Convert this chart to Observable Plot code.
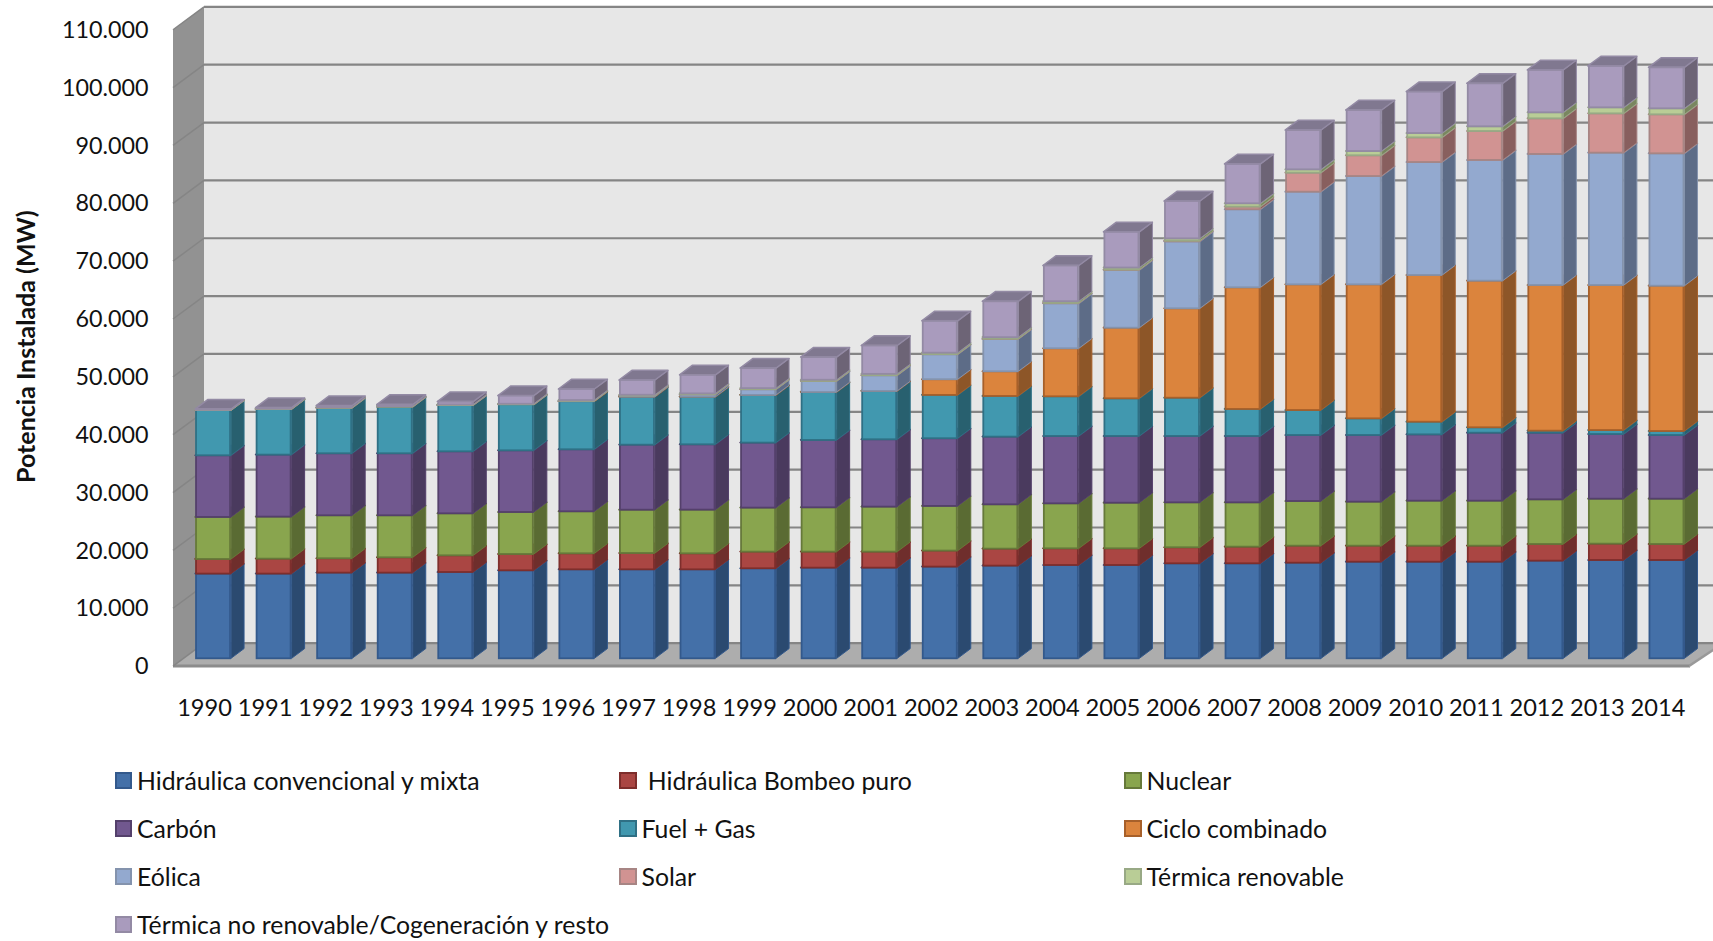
<!DOCTYPE html>
<html lang="es">
<head>
<meta charset="utf-8">
<title>Potencia Instalada</title>
<script src="https://cdn.jsdelivr.net/npm/d3@7"></script>
<script src="https://cdn.jsdelivr.net/npm/@observablehq/plot@0.6"></script>
<style>
html,body{margin:0;padding:0;background:#fff;overflow:hidden}
#legend{display:grid;grid-template-columns:504.5px 505px auto;grid-auto-rows:48px;padding:6.5px 0 0 114.5px;
 font-family:Lato,sans-serif;font-size:24.8px;color:#111;height:183px;box-sizing:content-box}
.item{display:flex;align-items:center;white-space:pre}
.sw{width:17.5px;height:17px;box-sizing:border-box;border:2.5px solid;margin-right:5px;flex:none}
</style>
</head>
<body>
<div id="chart"></div>
<div id="legend"></div>
<script>
const years = [1990,1991,1992,1993,1994,1995,1996,1997,1998,1999,2000,2001,2002,2003,2004,2005,2006,2007,2008,2009,2010,2011,2012,2013,2014];
const yTicks = [0,10000,20000,30000,40000,50000,60000,70000,80000,90000,100000,110000];
const seriesNames = ["Hidráulica convencional y mixta"," Hidráulica Bombeo puro","Nuclear","Carbón","Fuel + Gas","Ciclo combinado","Eólica","Solar","Térmica renovable","Térmica no renovable/Cogeneración y resto"];

const hidraulica = [14640,14640,14810,14810,14920,15210,15380,15380,15380,15560,15670,15670,15850,16020,16130,16130,16420,16420,16530,16700,16700,16700,16880,16990,16990];
const bombeo = [2530,2590,2480,2650,2880,2820,2770,2820,2770,2880,2770,2770,2770,2940,2880,2880,2770,2880,2940,2770,2770,2770,2880,2830,2770];
const nuclear = [7260,7260,7430,7260,7260,7260,7260,7490,7550,7610,7660,7780,7720,7660,7780,7890,7770,7660,7720,7610,7780,7780,7720,7770,7830];
const carbon = [10660,10720,10720,10720,10720,10660,10720,11240,11290,11240,11640,11640,11700,11700,11640,11530,11470,11470,11410,11520,11460,11750,11520,11180,11010];
const fuelGas = [7840,7890,7890,8070,8010,7950,8300,8300,8240,8240,8300,8360,7490,7030,6860,6510,6620,4670,4320,2880,2190,930,350,690,690];
const ciclo = [0,0,0,0,0,0,0,0,0,0,0,0,2710,4260,8300,12210,15450,21030,21720,23160,25360,25350,25180,25070,25120];
const eolica = [0,0,0,0,0,0,100,200,400,980,1900,2710,4320,5590,7780,9990,11570,13490,16020,18730,19530,20860,22650,22880,22880];
const solar = [0,0,0,0,0,0,0,0,10,10,10,10,20,40,60,60,120,460,3290,3580,4260,5010,6160,6790,6740];
const termicaRen = [30,60,80,80,90,100,120,130,150,180,200,230,250,270,300,350,400,570,570,740,750,810,1040,1040,1040];
const termicaNoRen = [120,170,260,270,490,1400,1900,2550,3200,3460,3920,4900,5500,6200,6170,6160,6460,6800,6800,7090,7150,7430,7320,7150,7080];
const seriesValues = [hidraulica,bombeo,nuclear,carbon,fuelGas,ciclo,eolica,solar,termicaRen,termicaNoRen];

// palette
const frontColors = ["#4470a8","#aa4643","#89a54e","#71588f","#4198af","#db843d","#93a9cf","#d19392","#b9cd96","#a99bbd"];
const sideColors  = ["#2b4a70","#6f2e2c","#5a6b33","#4a3a5e","#28606f","#8d5628","#5d6c87","#885f5e","#798660","#6d6476"];
const topColors   = ["#38598a","#8c3a38","#708540","#5d4875","#347c8f","#b46d32","#7888a8","#ab7877","#98a87b","#807890"];
const edgeColors  = ["#33598c","#7e2e2c","#66793a","#54406b","#2f7085","#a7602a","#8493ad","#a78584","#98a985","#938aa4"];

// 3D projection of the chart box, in px relative to the plane of the bar fronts
const barDepth = {dx: 13, dy: -9.7};
const backPlane = {dx: 33.5, dy: -15.6};
const frontPlane = {dx: 2.5, dy: 7.3};
const floorRightX = 1690, wallDepthX = 31;

const rows = seriesNames.flatMap((s, k) => years.map((year, j) => ({year, series: s, k, value: seriesValues[k][j]})));
const fmt = d3.formatLocale({decimal: ",", thousands: ".", grouping: [3], currency: ["", ""]}).format(",");

const NS = "http://www.w3.org/2000/svg";
function poly(parent, before, pts, fill, stroke, sw) {
  const p = document.createElementNS(NS, "polygon");
  p.setAttribute("points", pts.map(q => q.join(",")).join(" "));
  p.setAttribute("fill", fill);
  if (stroke) { p.setAttribute("stroke", stroke); p.setAttribute("stroke-width", sw || 1); p.setAttribute("stroke-linejoin", "round"); }
  parent.insertBefore(p, before);
  return p;
}

// Walls and floor, positioned from the y scale
function backdrop(index, scales, values, dim, ctx, next) {
  const g = next(index, scales, values, dim, ctx);
  const y = scales.y, top = yTicks[yTicks.length - 1];
  const xf = dim.marginLeft + frontPlane.dx, xb = xf + wallDepthX;
  const f = v => y(v) + frontPlane.dy, b = v => y(v) + backPlane.dy;
  const xr = dim.width + 40;
  poly(g, null, [[xb, b(top)], [xr, b(top)], [xr, b(0)], [xb, b(0)]], "#e7e7e7");
  poly(g, null, [[xf, f(top)], [xb, b(top)], [xb, b(0)], [xf, f(0)]], "#929292");
  poly(g, null, [[xf, f(0)], [xb, b(0)], [floorRightX + wallDepthX, b(0)], [floorRightX, f(0)]], "#adadad");
  poly(g, null, [[xf, f(0) - 1.5], [floorRightX, f(0) - 1.5], [floorRightX, f(0) + 1.5], [xf, f(0) + 1.5]], "#8c8c8c");
  poly(g, null, [[floorRightX - 1, f(0) + 1.5], [floorRightX + wallDepthX, b(0) + 3], [floorRightX + wallDepthX, b(0)], [floorRightX - 1, f(0) - 1.5]], "#999999");
  for (const t of yTicks) {
    const l = document.createElementNS(NS, "line");
    l.setAttribute("x1", xf); l.setAttribute("y1", f(t)); l.setAttribute("x2", xb); l.setAttribute("y2", b(t));
    l.setAttribute("stroke", "#858585"); l.setAttribute("stroke-width", 1.5);
    g.appendChild(l);
  }
  return g;
}

// Adds side and top faces to each stacked bar front
function box3d(index, scales, values, dim, ctx, next) {
  const g = next(index, scales, values, dim, ctx);
  const rects = Array.from(g.querySelectorAll("rect"));
  rects.forEach((r, n) => {
    const k = rows[index[n]].k;
    const x = +r.getAttribute("x"), w = +r.getAttribute("width"), y0 = +r.getAttribute("y"), h = +r.getAttribute("height");
    const {dx, dy} = barDepth;
    poly(g, r, [[x + w, y0 + h], [x + w + dx, y0 + h + dy], [x + w + dx, y0 + dy], [x + w, y0]], sideColors[k], edgeColors[k], 1);
    poly(g, r, [[x, y0], [x + w, y0], [x + w + dx, y0 + dy], [x + dx, y0 + dy]], topColors[k], edgeColors[k], 1.5);
    r.setAttribute("x", x + 1); r.setAttribute("width", w - 2);
    r.setAttribute("stroke", edgeColors[k]); r.setAttribute("stroke-width", 1.8);
  });
  return g;
}

const chart = Plot.plot({
  width: 1713,
  height: 750,
  marginLeft: 170.5,
  marginRight: 4,
  marginTop: 21.95,
  marginBottom: 91.7,
  style: {fontFamily: "Lato, sans-serif", background: "transparent", color: "#111"},
  x: {type: "band", domain: years, padding: 0.405, round: false},
  y: {domain: [0, 110000]},
  color: {domain: seriesNames, range: frontColors},
  marks: [
    Plot.ruleY([0], {stroke: "none", render: backdrop}),
    Plot.ruleY(yTicks, {dx: backPlane.dx, dy: backPlane.dy, stroke: "#858585", strokeWidth: 2.2}),
    Plot.barY(rows, Plot.stackY({x: "year", y: "value", fill: "series", order: null, render: box3d})),
    Plot.axisY({ticks: yTicks, tickSize: 0, tickPadding: 22.5, tickFormat: fmt, fontSize: 23.3, label: null, dy: 8, color: "#111"}),
    Plot.axisX({tickSize: 0, tickPadding: 40, tickFormat: String, fontSize: 23.6, label: null, dx: -9, color: "#111"}),
    Plot.text(["Potencia Instalada (MW)"], {text: d => d, frameAnchor: "left", textAnchor: "middle", rotate: -90, dx: -144.5, dy: 6, fontWeight: "bold", fontSize: 25, fill: "#111"})
  ]
});
document.getElementById("chart").appendChild(chart);

const legend = d3.select("#legend");
seriesNames.forEach((name, k) => {
  const item = legend.append("div").attr("class", "item");
  item.append("span").attr("class", "sw").style("background", frontColors[k]).style("border-color", edgeColors[k]);
  item.append("span").text(name);
});
</script>
</body>
</html>
